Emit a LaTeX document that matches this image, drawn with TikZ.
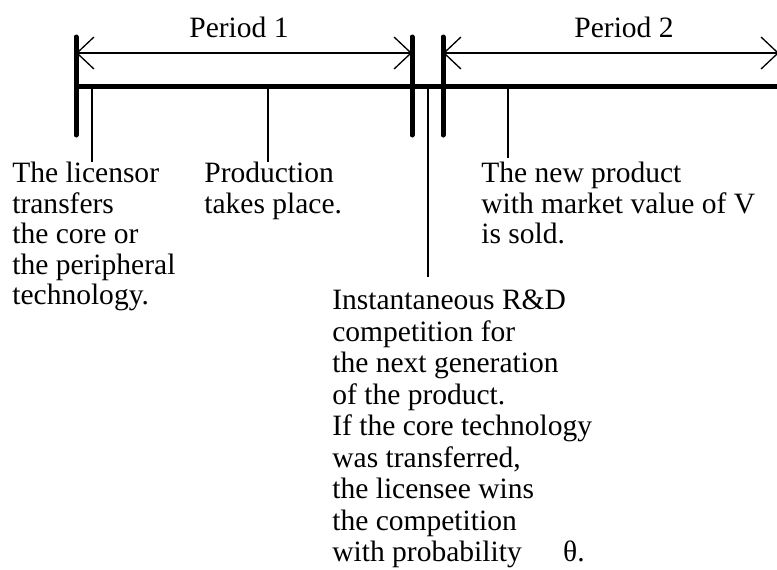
\documentclass[tikz,border=0pt]{standalone}
\usepackage{fontspec}
\setmainfont{Liberation Serif}
\usetikzlibrary{arrows.meta}

\tikzset{
	bigtick/.style = {line width = 0.1cm, line cap = round},
	smalltick/.style = {line width = 0.75pt},
	event/.style = {anchor = north west, align = left, inner sep = 0pt}
}

\begin{document}
\begin{tikzpicture}[x = 0.02cm, y = -0.02cm, > = {Straight Barb[length = 0.34cm, width = 0.64cm]},
	font = \fontsize{16.8}{17.3}\selectfont]

	\useasboundingbox (0, 0) rectangle (777, 569);

	% Points on the time line

	\coordinate (t0) at (76, 86);
	\coordinate (t1) at (92, 86);
	\coordinate (t2) at (268, 86);
	\coordinate (t3) at (428, 86);
	\coordinate (t4) at (508, 86);
	\coordinate (tend) at (780, 86);

	% The time line

	\draw [line width = 0.1cm] (t0) -- (tend);

	% The two periods

	\begin{scope}[<->, smalltick]

		\coordinate (p1a) at (76, 53);
		\coordinate (p1b) at (412, 53);
		\coordinate (p2a) at (443, 53);
		\coordinate (p2b) at (779, 53);

		\draw (p1a) -- (p1b);
		\draw (p2a) -- (p2b);

	\end{scope}

	\node [anchor = base] (per1) at (239, 37) {Period 1};
	\node [anchor = base] (per2) at (624, 37) {Period 2};

	% Period boundaries

	\foreach \x in {76, 412, 443}
		\draw [bigtick] (\x, 37) -- (\x, 135);

	% Events

	\node [event] (licensor) at (12, 162) {The licensor\\transfers\\the core or\\the peripheral\\technology.};
	\node [event] (production) at (204, 162) {Production\\takes place.};
	\node [event] (sold) at (481, 162) {The new product\\with market value of V\\is sold.};
	\node [event, font = \fontsize{16.8}{17.9}\selectfont] (rnd) at (332, 290)
		{Instantaneous R\&D\\competition for\\the next generation\\of the product.\\If the core technology\\was transferred,\\the licensee wins\\the competition\\with probability \hspace{0.68cm}θ.};

	% Ticks down to the events

	\begin{scope}[smalltick]

		\draw (t1) -- (t1 |- licensor.north);
		\draw (t2) -- (t2 |- production.north);
		\draw (t3) -- ([yshift = 0.26cm] t3 |- rnd.north);
		\draw (t4) -- ([yshift = 0.08cm] t4 |- sold.north);

	\end{scope}

\end{tikzpicture}
\end{document}
